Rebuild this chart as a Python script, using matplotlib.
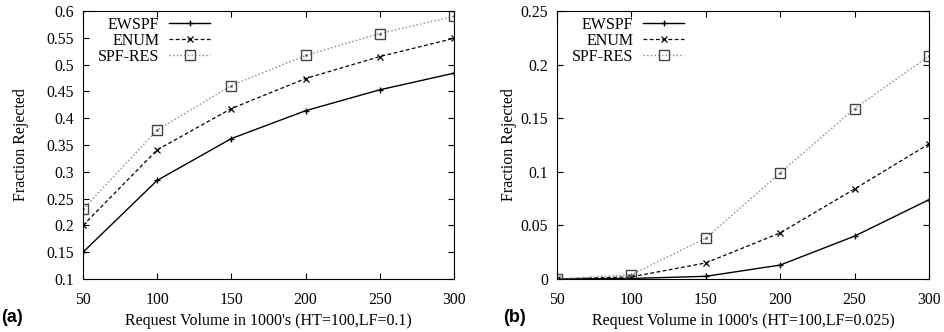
import numpy as np
import matplotlib.pyplot as plt

plt.rcParams['font.family'] = ['Liberation Serif', 'DejaVu Serif']

volume = [50, 100, 150, 200, 250, 300]

# (a) HT=100, LF=0.1
ewspf_a = [0.150, 0.284, 0.362, 0.414, 0.453, 0.484]
enum_a = [0.200, 0.341, 0.418, 0.474, 0.515, 0.549]
spfres_a = [0.230, 0.378, 0.461, 0.517, 0.558, 0.590]

# (b) HT=100, LF=0.025
ewspf_b = [0.0, 0.0005, 0.0025, 0.013, 0.040, 0.074]
enum_b = [0.0, 0.002, 0.015, 0.043, 0.084, 0.126]
spfres_b = [0.0, 0.004, 0.038, 0.099, 0.159, 0.208]

names = ['EWSPF', 'ENUM', 'SPF-RES']
xlab_a = "Request Volume in 1000's (HT=100,LF=0.1)"
xlab_b = "Request Volume in 1000's (HT=100,LF=0.025)"

fig = plt.figure(figsize=(9.44, 3.32), dpi=100)
ax1 = fig.add_axes([83/944, 1-279/332, 371/944, 268/332])
ax2 = fig.add_axes([557/944, 1-279/332, 372/944, 268/332])


def draw(ax, ys, yticks, ylim, xlab, tag, ylab_x, tag_x):
    ax.plot(volume, ys[0], '-', color='black', lw=1.0, marker='+', ms=5, mew=1.0, label=names[0])
    ax.plot(volume, ys[1], '--', color='black', lw=0.9, dashes=(3, 2), marker='x', ms=5, mew=0.9, label=names[1])
    ax.plot(volume, ys[2], ':', color='#888888', lw=1.0, marker='s', ms=6.5, mew=1.0,
            mfc='none', mec='#444444', label=names[2])
    ax.plot(volume, ys[2], ls='none', marker='.', ms=2, color='#666666')
    ax.set_xlim(50, 300)
    ax.set_ylim(*ylim)
    ax.set_xticks(volume)
    ax.set_yticks(yticks)
    ax.set_yticklabels(['%g' % round(t, 2) for t in yticks])
    ax.tick_params(direction='in', top=True, right=True, length=4, labelsize=11.3)
    ax.tick_params(axis='y', pad=6.5)
    ax.tick_params(axis='x', pad=9)
    ax.set_ylabel('Fraction Rejected', fontsize=11.5)
    ax.yaxis.set_label_coords(ylab_x, 0.5)
    ax.set_xlabel(xlab, fontsize=11.5)
    ax.xaxis.set_label_coords(0.5, -0.128)
    ax.legend(loc='upper left', markerfirst=False, frameon=False, fontsize=11.5,
              handlelength=2.6, handletextpad=0.6, labelspacing=0.0,
              borderaxespad=0.2, borderpad=0.15, bbox_to_anchor=(0.025, 1.0))
    ax.text(tag_x, -0.142, tag, transform=ax.transAxes, fontsize=13, fontweight='bold',
            family='Liberation Sans', va='center', ha='left')


draw(ax1, [ewspf_a, enum_a, spfres_a], np.arange(0.1, 0.61, 0.05), (0.1, 0.6), xlab_a, '(a)',
     (29 - 83) / 371, (1 - 83) / 371)
draw(ax2, [ewspf_b, enum_b, spfres_b], np.arange(0, 0.26, 0.05), (0, 0.25), xlab_b, '(b)',
     (517 - 557) / 372, (503 - 557) / 372)

fig.savefig('out.png', dpi=100)
